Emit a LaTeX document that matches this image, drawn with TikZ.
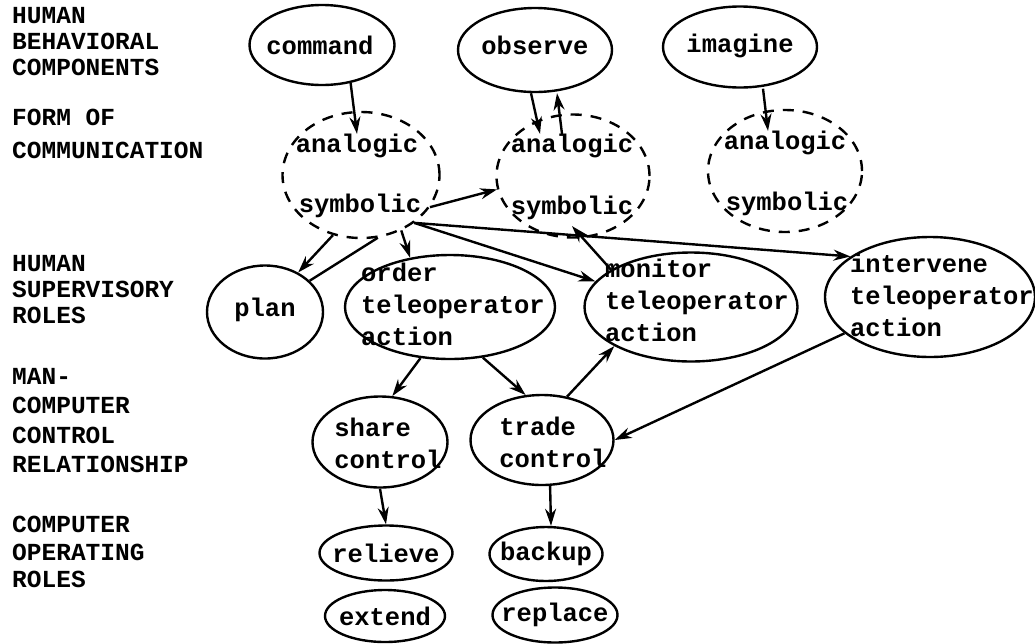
\documentclass[tikz,border=0pt]{standalone}
\usepackage{fontspec}
\setmonofont{Liberation Mono}
\usetikzlibrary{shapes.geometric,arrows.meta}
\tikzset{
  blob/.style={draw, ellipse, line width=2.4pt, inner sep=0pt},
  dashblob/.style={blob, dash pattern=on 11pt off 9pt},
  word/.style={font=\ttfamily\bfseries\fontsize{25.5}{32}\selectfont, align=left, inner sep=0pt},
  rowname/.style={font=\ttfamily\bfseries\fontsize{24.5}{26}\selectfont, align=left, inner sep=0pt, anchor=north west},
  flow/.style={line width=2.4pt, -{Stealth[length=17pt,width=11pt]}},
}
\newcommand{\blobnode}[5]{\node[blob, minimum width=#4pt, minimum height=#5pt] (#1) at (#2,#3) {};}

\begin{document}
\begin{tikzpicture}[x=1pt, y=-1pt]
        \useasboundingbox (0,0) rectangle (1035,643);
        % row names
        \node[rowname] (rhb) at (12,7) {HUMAN\\BEHAVIORAL\\COMPONENTS};
        \node[rowname] (rfc) at (12,109) {FORM OF\\[7pt]COMMUNICATION};
        \node[rowname] (rsr) at (12,255) {HUMAN\\SUPERVISORY\\ROLES};
        \node[rowname] (rcr) at (12,368) {MAN-\\[3.5pt]COMPUTER\\[3.5pt]CONTROL\\[3.5pt]RELATIONSHIP};
        \node[rowname] (ror) at (12,516) {COMPUTER\\[1.5pt]OPERATING\\[1.5pt]ROLES};
        % row 1
        \blobnode{command}{322}{45}{145}{80}
        \blobnode{observe}{535}{50}{154}{84}
        \blobnode{imagine}{740}{47}{154}{81}
        \node[word] (command-t) at (320,45) {command};
        \node[word] (observe-t) at (535,45) {observe};
        \node[word] (imagine-t) at (740,46) {imagine};
        % row 2
        \node[dashblob, minimum width=157pt, minimum height=126pt] (lcomm) at (361,175) {};
        \node[dashblob, minimum width=153pt, minimum height=123pt] (mcomm) at (573,176) {};
        \node[dashblob, minimum width=154pt, minimum height=122pt] (rcomm) at (785,171) {};
        \node[word] (lana) at (357,146) {analogic};
        \node[word] (lsym) at (360,206) {symbolic};
        \node[word] (mana) at (572,146) {analogic};
        \node[word] (msym) at (572,208) {symbolic};
        \node[word] (rana) at (785,143) {analogic};
        \node[word] (rsym) at (787,204) {symbolic};
        % row 3
        \blobnode{plan}{265}{312}{116}{93}
        \blobnode{order}{450}{307}{210}{104}
        \blobnode{monitor}{691}{307}{213}{109}
        \blobnode{intervene}{930}{297}{210}{120}
        \node[word] (plan-t) at (265,310) {plan};
        \node[word] (order-t) at (453,304) {order\\teleoperator\\action};
        \node[word] (monitor-t) at (697,300) {monitor\\teleoperator\\action};
        \node[word] (intervene-t) at (942,295) {intervene\\teleoperator\\action};
        % row 4
        \blobnode{share}{380}{442}{135}{91}
        \blobnode{trade}{542}{440}{143}{90}
        \node[word] (share-t) at (388,443) {share\\control};
        \node[word] (trade-t) at (553,442) {trade\\control};
        % row 5
        \blobnode{relieve}{386}{553}{133}{55}
        \blobnode{backup}{546}{554}{113}{54}
        \blobnode{extend}{385}{616}{120}{52}
        \blobnode{replace}{555}{615}{125}{55}
        \node[word] (relieve-t) at (relieve) {relieve};
        \node[word] (backup-t) at (backup) {backup};
        \node[word] (extend-t) at (extend) {extend};
        \node[word] (replace-t) at (replace) {replace};
        % arrows
        \draw[flow] (command.-53) -- (lana.north);
        \draw[flow] ([xshift=-4pt]observe.south) -- ([xshift=-32pt]mana.north);
        \draw[flow] ([xshift=-10pt]mana.north) -- ([xshift=22pt]observe.south);
        \draw[flow] ([xshift=23pt]imagine.south) -- ([xshift=-17pt]rana.north);
        \draw[flow] (lcomm.-25) -- (mcomm.-170);
        \draw[flow] (lcomm.-115) -- (plan.50);
        \draw[line width=2.4pt] (plan.35) -- (lcomm.-75);
        \draw[flow] (lcomm.-54) -- (order.129);
        \draw[flow] (lcomm.-42) -- (monitor.165);
        \draw[flow] (lcomm.-42) -- (intervene.153);
        \draw[flow] (monitor.155) -- ([yshift=-6pt]msym.south);
        \draw[flow] (order.-120) -- (share.75);
        \draw[flow] (order.-57) -- (trade.110);
        \draw[flow] (trade.60) -- (monitor.-153);
        \draw[flow] (intervene.-157) -- (trade.east);
        \draw[flow] (share.south) -- (relieve.north);
        \draw[flow] (trade.-80) -- ([xshift=5pt]backup.north);
    \end{tikzpicture}
\end{document}
